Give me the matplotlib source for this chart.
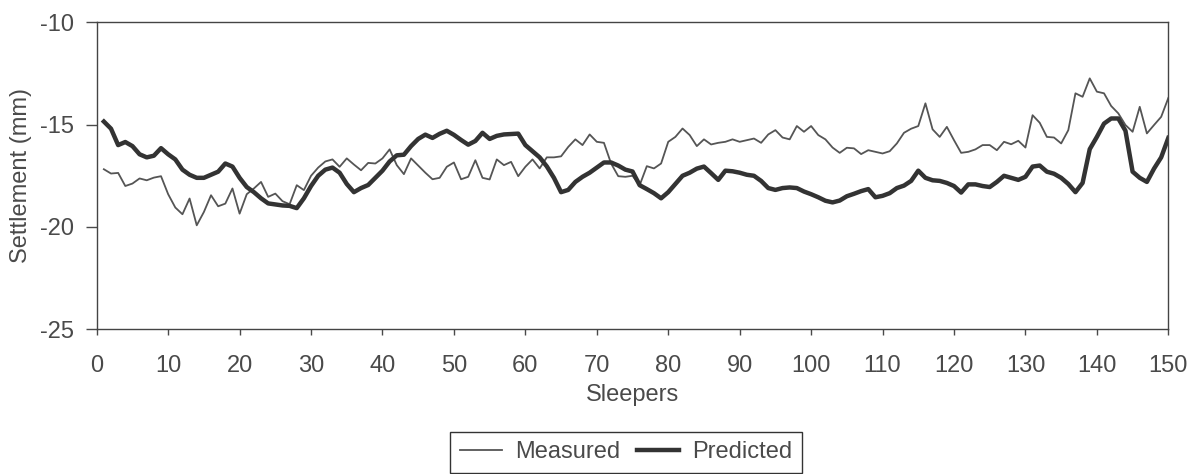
import matplotlib.pyplot as plt
import numpy as np

# ── data ─────────────────────────────────────────────────────────────────────
sleepers = np.arange(1, 151)

measured = [
    -17.18, -17.39, -17.36, -18.00, -17.88, -17.63, -17.72, -17.59, -17.52, -18.40,
    -19.05, -19.38, -18.61, -19.92, -19.27, -18.45, -18.99, -18.86, -18.12, -19.35,
    -18.40, -18.12, -17.80, -18.53, -18.37, -18.74, -18.89, -17.96, -18.20, -17.50,
    -17.10, -16.80, -16.70, -17.06, -16.65, -16.95, -17.23, -16.87, -16.90, -16.65,
    -16.21, -16.98, -17.42, -16.65, -17.00, -17.35, -17.67, -17.60, -17.06, -16.85,
    -17.67, -17.55, -16.74, -17.60, -17.68, -16.70, -16.98, -16.82, -17.52, -17.06,
    -16.70, -17.14, -16.60, -16.60, -16.55, -16.09, -15.72, -16.00, -15.48, -15.84,
    -15.89, -16.90, -17.52, -17.55, -17.50, -17.96, -17.03, -17.14, -16.90, -15.84,
    -15.60, -15.19, -15.51, -16.05, -15.72, -15.97, -15.89, -15.84, -15.72, -15.84,
    -15.76, -15.68, -15.89, -15.48, -15.27, -15.63, -15.72, -15.07, -15.35, -15.07,
    -15.51, -15.72, -16.12, -16.38, -16.13, -16.16, -16.44, -16.25, -16.33, -16.41,
    -16.30, -15.92, -15.40, -15.20, -15.07, -13.96, -15.23, -15.60, -15.11, -15.76,
    -16.38, -16.33, -16.21, -16.00, -16.00, -16.25, -15.84, -15.96, -15.79, -16.12,
    -14.54, -14.91, -15.60, -15.63, -15.92, -15.27, -13.47, -13.64, -12.74, -13.39,
    -13.47, -14.09, -14.45, -15.02, -15.35, -14.13, -15.43, -15.02, -14.62, -13.70,
]

predicted = [
    -14.85, -15.20, -16.00, -15.85, -16.05, -16.45, -16.60, -16.52, -16.15, -16.45,
    -16.70, -17.20, -17.45, -17.60, -17.60, -17.45, -17.30, -16.90, -17.05, -17.60,
    -18.05, -18.30, -18.60, -18.85, -18.90, -18.95, -18.97, -19.08, -18.60, -18.00,
    -17.50, -17.20, -17.10, -17.35, -17.90, -18.30, -18.10, -17.95, -17.60, -17.25,
    -16.80, -16.50, -16.47, -16.05, -15.70, -15.49, -15.65, -15.45, -15.30, -15.50,
    -15.75, -15.98, -15.80, -15.40, -15.70, -15.55, -15.48, -15.46, -15.44, -16.00,
    -16.30, -16.60, -17.04, -17.60, -18.30, -18.19, -17.80, -17.55, -17.35, -17.10,
    -16.85, -16.85, -17.00, -17.20, -17.29, -17.96, -18.15, -18.35, -18.60, -18.30,
    -17.90, -17.50, -17.35, -17.15, -17.05, -17.37, -17.70, -17.25, -17.28, -17.35,
    -17.45, -17.50, -17.75, -18.10, -18.19, -18.10, -18.07, -18.10, -18.27, -18.40,
    -18.55, -18.72, -18.80, -18.71, -18.50, -18.38, -18.25, -18.15, -18.55, -18.48,
    -18.35, -18.10, -17.98, -17.75, -17.25, -17.60, -17.72, -17.75, -17.85, -18.00,
    -18.32, -17.92, -17.92, -18.00, -18.05, -17.80, -17.50, -17.60, -17.70, -17.55,
    -17.05, -17.00, -17.30, -17.40, -17.60, -17.90, -18.30, -17.85, -16.20, -15.60,
    -14.95, -14.70, -14.70, -15.30, -17.30, -17.60, -17.80, -17.15, -16.60, -15.65,
]

x_ticks = list(range(0, 151, 10))
y_ticks = [-25, -20, -15, -10]

# ── figure ───────────────────────────────────────────────────────────────────
plt.rcParams["font.family"] = ["Liberation Sans", "DejaVu Sans"]
plt.rcParams["axes.unicode_minus"] = False
text_col = "#4a4a4a"
fs = 17

fig = plt.figure(figsize=(12, 4.74), dpi=100)
ax = fig.add_axes([0.0806, 0.3053, 0.8930, 0.6477])

ax.plot(sleepers, measured, color="#555555", linewidth=1.3, label="Measured")
ax.plot(sleepers, predicted, color="#333333", linewidth=3.2, label="Predicted")

ax.set_xlim(0, 150)
ax.set_ylim(-25, -10)
ax.set_xticks(x_ticks)
ax.set_yticks(y_ticks)
ax.tick_params(axis="x", direction="out", length=4.5, width=1, colors=text_col,
               labelsize=fs, pad=14)
ax.tick_params(axis="y", direction="out", length=8, width=1, colors=text_col,
               labelsize=fs, pad=8)
for s in ax.spines.values():
    s.set_color("#444444")
    s.set_linewidth(1.0)

ax.set_xlabel("Sleepers", fontsize=fs, color=text_col, labelpad=5)
ax.set_ylabel("Settlement (mm)", fontsize=fs, color=text_col, labelpad=6)

fig.legend(loc="upper center", bbox_to_anchor=(0.5217, 0.0886), ncol=2,
           fontsize=fs, frameon=True, fancybox=False, edgecolor="#333333",
           framealpha=1, handlelength=1.8, handletextpad=0.55,
           columnspacing=0.7, borderpad=0.4, borderaxespad=0,
           labelcolor=text_col)

fig.savefig("out.png", dpi=100)
